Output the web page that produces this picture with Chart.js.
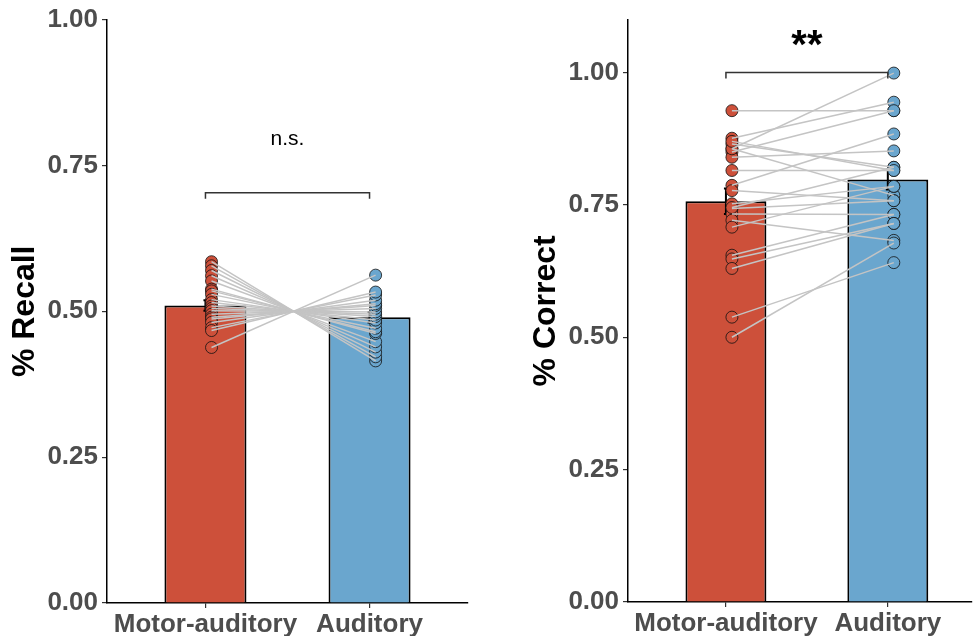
<!DOCTYPE html>
<html>
<head>
<meta charset="utf-8">
<script src="https://cdn.jsdelivr.net/npm/chart.js@4"></script>
<style>
  html, body { margin: 0; padding: 0; background: #fff; }
  #left { position: absolute; left: 0; top: 0; width: 486px; height: 636px; }
  #right { position: absolute; left: 521px; top: 0; width: 452px; height: 636px; }
</style>
</head>
<body>
<div id="left"><canvas id="recallChart"></canvas></div>
<div id="right"><canvas id="correctChart"></canvas></div>
<script>
const groups = ["Motor-auditory", "Auditory"];
const groupPos = [1, 2];
const pointPos = [1.037, 2.037];
const barColors = ["#CD503A", "#6AA6CE"];

// left panel: % Recall
const recallMeans = [0.510, 0.490];
const recallSE = [0.009, 0.009];
const recallMotor = [0.585, 0.578, 0.570, 0.561, 0.552, 0.538, 0.535, 0.529, 0.520, 0.515,
                     0.509, 0.505, 0.501, 0.495, 0.490, 0.487, 0.481, 0.472, 0.467, 0.438];
const recallAuditory = [0.415, 0.422, 0.430, 0.439, 0.448, 0.462, 0.465, 0.471, 0.480, 0.485,
                        0.491, 0.495, 0.499, 0.505, 0.510, 0.513, 0.519, 0.528, 0.533, 0.562];
const recallTicks = [0, 0.25, 0.5, 0.75, 1.0];

// right panel: % Correct
const correctMeans = [0.757, 0.798];
const correctSE = [0.024, 0.019];
const correctMotor = [0.928, 0.876, 0.865, 0.856, 0.850, 0.840, 0.856, 0.815, 0.787, 0.777, 0.752,
                      0.743, 0.733, 0.721, 0.708, 0.655, 0.648, 0.630, 0.538, 0.500, 0.745, 0.870];
const correctAuditory = [0.928, 0.944, 0.821, 0.999, 0.928, 0.852, 0.768, 0.815, 0.884, 0.758, 0.785,
                         0.758, 0.732, 0.683, 0.785, 0.732, 0.715, 0.715, 0.641, 0.678, 0.821, 0.815];
const correctTicks = [0, 0.25, 0.5, 0.75, 1.0];

const FONT = "'Liberation Sans', Arial, sans-serif";
const TICK_COLOR = "#4D4D4D";

function buildChart(canvasId, cfg) {
  const lines = cfg.motor.map((m, i) => ({
    type: 'line',
    data: [{ x: pointPos[0], y: m }, { x: pointPos[1], y: cfg.auditory[i] }],
    borderColor: '#C4C4C4',
    borderWidth: 1.5,
    pointRadius: 0,
    fill: false,
    order: 1
  }));

  const points = [cfg.motor, cfg.auditory].map((vals, g) => ({
    type: 'scatter',
    data: vals.map(v => ({ x: pointPos[g], y: v })),
    backgroundColor: barColors[g],
    borderColor: '#111',
    borderWidth: 0.8,
    pointRadius: 6,
    order: 2
  }));

  const bars = {
    type: 'bar',
    data: groupPos.map((x, i) => ({ x: x, y: cfg.means[i] })),
    backgroundColor: barColors,
    borderColor: '#000',
    borderWidth: 2,
    barPercentage: 0.5,
    categoryPercentage: 1.0,
    order: 3
  };

  const errorBars = {
    id: 'errorBars',
    afterDatasetDraw(chart, args) {
      if (args.index !== 0) return;
      const { ctx, scales: { x, y } } = chart;
      ctx.save();
      ctx.strokeStyle = '#000';
      ctx.lineWidth = 2;
      cfg.means.forEach((m, i) => {
        const px = x.getPixelForValue(groupPos[i]);
        const top = y.getPixelForValue(m + cfg.se[i]);
        const bot = y.getPixelForValue(m - cfg.se[i]);
        ctx.beginPath();
        ctx.moveTo(px, top); ctx.lineTo(px, bot);
        ctx.moveTo(px - 2, top); ctx.lineTo(px + 2, top);
        ctx.moveTo(px - 2, bot); ctx.lineTo(px + 2, bot);
        ctx.stroke();
      });
      ctx.restore();
    }
  };

  const bracket = {
    id: 'bracket',
    afterDraw(chart) {
      const { ctx, scales: { x, y } } = chart;
      const x1 = x.getPixelForValue(groupPos[0]);
      const x2 = x.getPixelForValue(groupPos[1]);
      const by = y.getPixelForValue(cfg.bracketY);
      ctx.save();
      ctx.strokeStyle = '#333';
      ctx.lineWidth = 1.5;
      ctx.beginPath();
      ctx.moveTo(x1, by + 6); ctx.lineTo(x1, by); ctx.lineTo(x2, by); ctx.lineTo(x2, by + 6);
      ctx.stroke();
      ctx.fillStyle = '#000';
      ctx.font = cfg.sigFont;
      ctx.textAlign = 'center';
      ctx.textBaseline = 'alphabetic';
      ctx.fillText(cfg.sigLabel, (x1 + x2) / 2, y.getPixelForValue(cfg.sigY));
      ctx.restore();
    }
  };

  return new Chart(document.getElementById(canvasId), {
    type: 'bar',
    data: { datasets: [bars, ...points, ...lines] },
    plugins: [errorBars, bracket],
    options: {
      responsive: true,
      maintainAspectRatio: false,
      animation: false,
      layout: { padding: cfg.padding, autoPadding: false },
      plugins: { legend: { display: false }, tooltip: { enabled: false } },
      scales: {
        x: {
          type: 'linear',
          min: cfg.xMin,
          max: cfg.xMax,
          offset: false,
          afterBuildTicks: s => { s.ticks = groupPos.map(v => ({ value: v })); },
          afterFit: s => { s.height = cfg.xAxisHeight; },
          ticks: {
            callback: (v, i) => groups[i],
            color: TICK_COLOR,
            font: { family: FONT, size: 26, weight: 'bold' },
            padding: 1,
            autoSkip: false,
            maxRotation: 0
          },
          grid: { display: true, offset: false, drawOnChartArea: false, drawTicks: true, tickLength: 5, color: '#333', lineWidth: 1.2 },
          border: { display: true, color: '#000', width: 1.5 }
        },
        y: {
          min: 0,
          max: cfg.yMax,
          afterBuildTicks: s => { s.ticks = cfg.ticks.map(v => ({ value: v })); },
          afterFit: s => { s.width = 107; },
          ticks: {
            callback: v => v.toFixed(2),
            color: TICK_COLOR,
            font: { family: FONT, size: 26, weight: 'bold' },
            padding: 4
          },
          grid: { display: true, drawOnChartArea: false, drawTicks: true, tickLength: 5, color: '#333', lineWidth: 1.2 },
          border: { display: true, color: '#000', width: 1.5 },
          title: {
            display: true,
            text: cfg.title,
            color: '#000',
            font: { family: FONT, size: 32, weight: 'bold' },
            padding: { top: 6, bottom: 0 }
          }
        }
      }
    }
  });
}

buildChart('recallChart', {
  motor: recallMotor, auditory: recallAuditory,
  means: recallMeans, se: recallSE, ticks: recallTicks,
  title: '% Recall', yMax: 1.0, xMin: 0.4, xMax: 2.6,
  padding: { top: 18, right: 18, left: 0, bottom: 0 }, xAxisHeight: 33,
  bracketY: 0.703, sigLabel: 'n.s.', sigY: 0.785, sigFont: "21px " + FONT
});

buildChart('correctChart', {
  motor: correctMotor, auditory: correctAuditory,
  means: correctMeans, se: correctSE, ticks: correctTicks,
  title: '% Correct', yMax: 1.1, xMin: 0.395, xMax: 2.52,
  padding: { top: 19, right: 1, left: 0, bottom: 0 }, xAxisHeight: 34,
  bracketY: 1.0, sigLabel: '**', sigY: 1.028, sigFont: "bold 40px " + FONT
});
</script>
</body>
</html>
